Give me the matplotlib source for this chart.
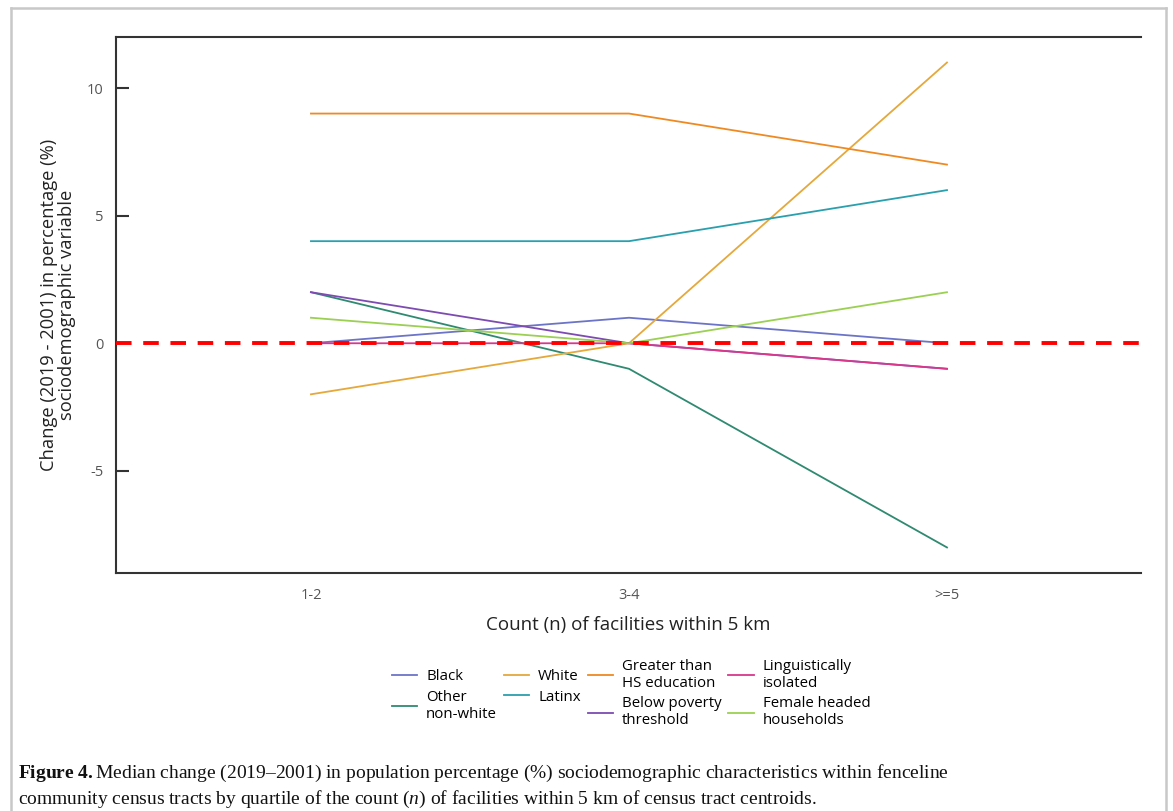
import matplotlib.pyplot as plt
from matplotlib.lines import Line2D

plt.rcParams['font.family'] = ['Open Sans', 'DejaVu Sans']
plt.rcParams['axes.unicode_minus'] = False
plt.rcParams['mathtext.fontset'] = 'custom'
plt.rcParams['mathtext.rm'] = 'Liberation Serif'
plt.rcParams['mathtext.it'] = 'Liberation Serif:italic'
plt.rcParams['mathtext.bf'] = 'Liberation Serif:bold'

# quartiles of facility count and median change per group
groups = ['1-2', '3-4', '>=5']
labels = ['Black', 'Other\nnon-white', 'White', 'Latinx',
          'Greater than\nHS education', 'Below poverty\nthreshold',
          'Linguistically\nisolated', 'Female headed\nhouseholds']
black = [0, 1, 0]
other_nonwhite = [2, -1, -8]
white = [-2, 0, 11]
latinx = [4, 4, 6]
greater_hs = [9, 9, 7]
below_poverty = [2, 0, -1]
ling_isolated = [0, 0, -1]
female_headed = [1, 0, 2]
colors = ['#6c74c8', '#2f8a70', '#e5a83b', '#2a9fae',
          '#ef8a22', '#7d4bb2', '#d8378c', '#9bd052']

series = [black, other_nonwhite, white, latinx,
          greater_hs, below_poverty, ling_isolated, female_headed]

fig = plt.figure(figsize=(11.73, 8.11), dpi=100)
ax = fig.add_axes([0.0989, 0.2935, 0.8738, 0.6609])

x = list(range(len(groups)))
for vals, lab, col in zip(series, labels, colors):
    ax.plot(x, vals, color=col, lw=1.3, label=lab)

ax.axhline(0, color='#ff0000', lw=2.8, ls=(0, (4, 3)), zorder=5)

ax.set_xlim(-0.613, 2.61)
ax.set_ylim(-9, 12)
ax.set_xticks(x)
ax.set_xticklabels(groups)
ax.set_yticks([-5, 0, 5, 10])
ax.tick_params(axis='x', length=0, pad=11, labelsize=10.5, labelcolor='#555555')
ax.tick_params(axis='y', direction='in', length=9, width=1.5, color='#333333',
               pad=9, labelsize=10.5, labelcolor='#555555')

for side in ['left', 'top', 'bottom']:
    ax.spines[side].set_color('#333333')
    ax.spines[side].set_linewidth(1.5)
ax.spines['right'].set_visible(False)

ax.set_xlabel('Count (n) of facilities within 5 km', fontsize=13.5,
              color='#222222', labelpad=9)
ax.set_ylabel('Change (2019 - 2001) in percentage (%)\nsociodemographic variable',
              fontsize=13.2, color='#222222', labelpad=8, linespacing=1.0)

fig.legend(loc='center', bbox_to_anchor=(0.538, 0.1447), ncol=4, frameon=False,
           fontsize=10.8, handlelength=1.7, handletextpad=0.6,
           columnspacing=0.45, labelspacing=0.35)

# figure frame and caption
for xs, ys in [([0.0094, 0.0094], [0.0, 0.990]),
               ([0.0094, 0.9940], [0.990, 0.990]),
               ([0.9940, 0.9940], [0.990, 0.0])]:
    fig.add_artist(Line2D(xs, ys, transform=fig.transFigure,
                          color='#c8c8c8', lw=1.8))

caption = (r'$\mathbf{Figure\ 4.}$Median change (2019–2001) in population percentage (%) '
           'sociodemographic characteristics within fenceline\n'
           r'community census tracts by quartile of the count ($\mathit{n}$) of facilities '
           'within 5 km of census tract centroids.')
fig.text(0.0155, 0.030, caption, family='Liberation Serif', fontsize=14,
         color='#111111', va='center', ha='left', linespacing=1.3)

fig.savefig('out.png', dpi=100)
